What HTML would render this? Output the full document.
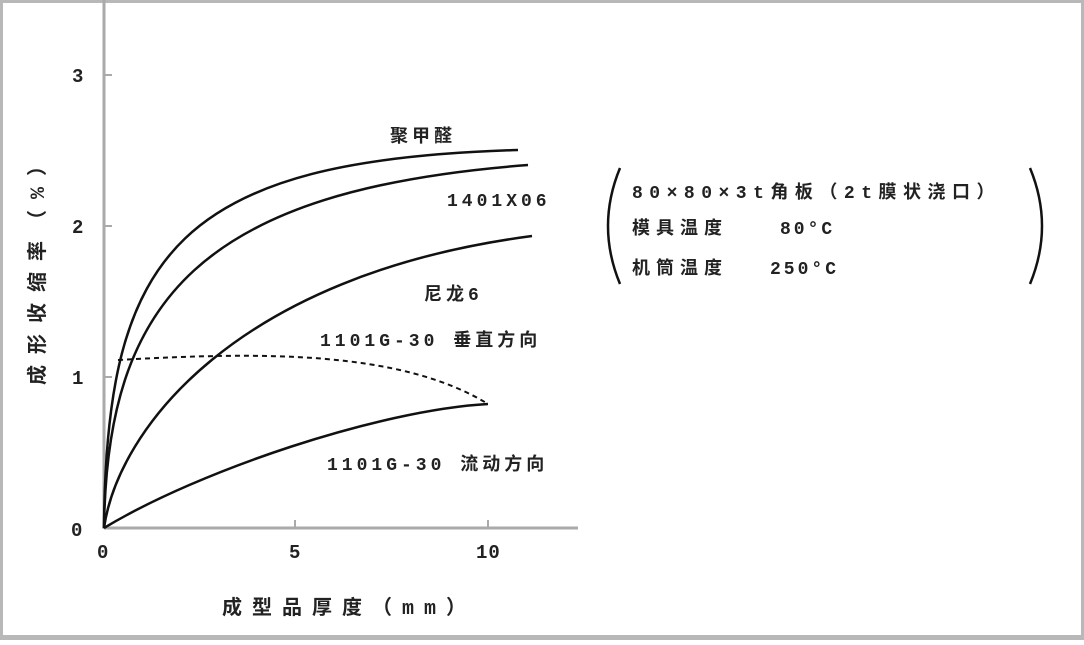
<!DOCTYPE html>
<html><head><meta charset="utf-8"><style>
html,body{margin:0;padding:0;background:#fff}
svg text{font-family:"Liberation Mono","Noto Sans CJK SC",monospace;font-weight:bold;fill:#222}
</style></head><body>
<svg width="1084" height="640" viewBox="0 0 1084 640" xmlns="http://www.w3.org/2000/svg">
<rect x="1.5" y="1.5" width="1081" height="635" fill="#fff" stroke="#b8b8b8" stroke-width="3"/>
<rect x="0" y="636" width="1084" height="4" fill="#b8b8b8"/>
<line x1="104" y1="0" x2="104" y2="529" stroke="#aaa" stroke-width="3"/>
<line x1="104" y1="528" x2="578" y2="528" stroke="#aaa" stroke-width="3"/>
<g stroke="#aaa" stroke-width="2">
<line x1="104" y1="75" x2="112" y2="75"/><line x1="104" y1="226" x2="112" y2="226"/><line x1="104" y1="377" x2="112" y2="377"/>
<line x1="295" y1="520" x2="295" y2="528"/><line x1="488" y1="520" x2="488" y2="528"/>
</g>
<g font-size="19">
<text x="72" y="82">3</text><text x="72" y="233">2</text><text x="72" y="384">1</text><text x="71" y="536">0</text>
<text x="97" y="558">0</text><text x="289" y="558">5</text><text x="476" y="558" letter-spacing="1">10</text>
</g>
<text x="222" y="614" font-size="20" letter-spacing="10">成型品厚度（mm）</text>
<text transform="translate(44,385) rotate(-90)" font-size="20" letter-spacing="11">成形收缩率（%）</text>
<g fill="none" stroke="#111" stroke-width="2.5">
<path d="M104,528 C106,250 180,160 518,150"/>
<path d="M104,528 C107,300 200,190 528,165"/>
<path d="M104,528 C118,430 235,275 532,236"/>
<path d="M104,528 C200,470 380,410 488,404"/>
<path d="M118,360 C260,352 400,350 488,404" stroke-dasharray="5,4" stroke-width="2"/>
</g>
<g font-size="18" letter-spacing="4">
<text x="390" y="142">聚甲醛</text>
<text x="447" y="206">1401X06</text>
<text x="424" y="300">尼龙6</text>
<text x="320" y="346">1101G-30 垂直方向</text>
<text x="327" y="470">1101G-30 流动方向</text>
<text x="632" y="198" letter-spacing="6.5">80×80×3t角板（2t膜状浇口）</text>
<text x="632" y="234" letter-spacing="6">模具温度</text><text x="780" y="234" letter-spacing="3">80°C</text>
<text x="632" y="274" letter-spacing="6">机筒温度</text><text x="770" y="274" letter-spacing="3">250°C</text>
</g>
<g fill="none" stroke="#111" stroke-width="2.5">
<path d="M620,168 Q596,226 620,284"/>
<path d="M1030,168 Q1054,226 1030,284"/>
</g>
</svg>
</body></html>
